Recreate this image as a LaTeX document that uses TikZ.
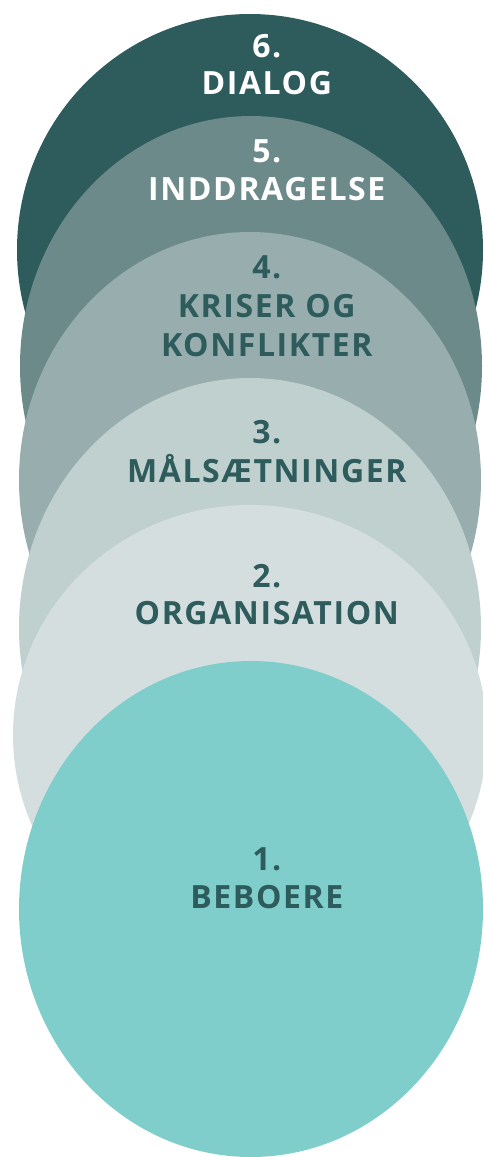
\documentclass[tikz,border=0pt]{standalone}
\usepackage{fontspec}
\setmainfont{Open Sans}
\newfontfamily\lblfont[LetterSpace=5]{Open Sans}
\definecolor{c6}{HTML}{2E5B5C}
\definecolor{c5}{HTML}{6D8A8A}
\definecolor{c4}{HTML}{97ADAE}
\definecolor{c3}{HTML}{C0D0CF}
\definecolor{c2}{HTML}{D4DEDF}
\definecolor{c1}{HTML}{7FCECB}
\begin{document}
\begin{tikzpicture}[x=1pt,y=-1pt,
  lbl/.style={anchor=base,inner sep=0pt,font=\lblfont\fontsize{32}{38}\selectfont\bfseries},
  light/.style={lbl,text=white},
  dark/.style={lbl,text=c6}]
\useasboundingbox (0,0) rectangle (483,1157);
\clip (0,0) rectangle (483,1157);
% stacked levels, drawn from the back (6) to the front (1)
\fill[c6] (250,250) ellipse [x radius=233,y radius=236];
\fill[c5] (251,366) ellipse [x radius=231,y radius=250];
\fill[c4] (250,480) ellipse [x radius=231,y radius=248];
\fill[c3] (250,628) ellipse [x radius=231,y radius=250];
\fill[c2] (250,735) ellipse [x radius=237,y radius=230];
\fill[c1] (251,909) ellipse [x radius=232,y radius=248];
% labels
\node[light] (n6) at (266.8,57) {6.};
\node[light] (t6) at (266.8,94.5) {DIALOG};
\node[light] (n5) at (266.8,162) {5.};
\node[light] (t5) at (266.8,200) {INDDRAGELSE};
\node[dark] (n4) at (266.8,278) {4.};
\node[dark] (t4a) at (266.8,317) {KRISER OG};
\node[dark] (t4b) at (266.8,356) {KONFLIKTER};
\node[dark] (n3) at (266.8,443) {3.};
\node[dark] (t3) at (266.8,482) {MÅLSÆTNINGER};
\node[dark] (n2) at (266.8,587) {2.};
\node[dark] (t2) at (266.8,624) {ORGANISATION};
\node[dark] (n1) at (266.8,870) {1.};
\node[dark] (t1) at (266.8,908) {BEBOERE};
\end{tikzpicture}
\end{document}
